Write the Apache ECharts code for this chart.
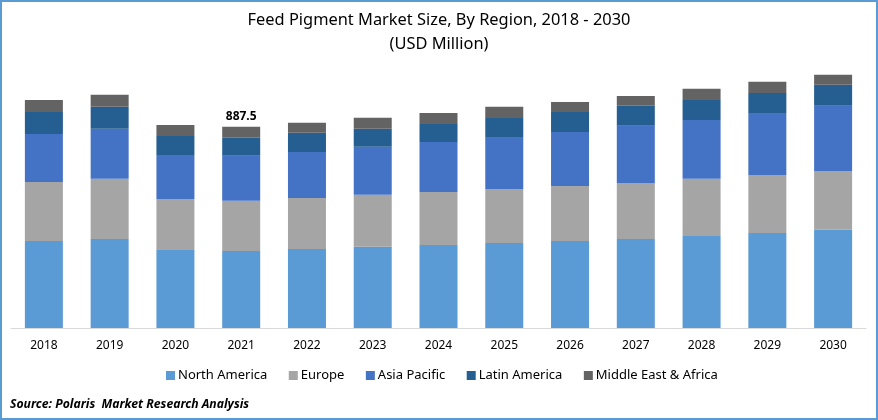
<!DOCTYPE html>
<html>
<head>
<meta charset="utf-8">
<style>
html, body { margin: 0; padding: 0; background: #fff; }
#main { width: 878px; height: 420px; }
</style>
<script src="https://cdn.jsdelivr.net/npm/echarts@6/dist/echarts.min.js"></script>
</head>
<body>
<div id="main"></div>
<script>
var years = ["2018", "2019", "2020", "2021", "2022", "2023", "2024", "2025", "2026", "2027", "2028", "2029", "2030"];
var northAmerica = [384, 393, 344, 340, 349, 358, 366, 375, 384, 393, 406, 419, 433];
var europe = [260, 265, 225, 221, 225, 230, 234, 238, 243, 247, 252, 256, 260];
var asiaPacific = [212, 221, 194, 199, 203, 212, 221, 230, 238, 252, 260, 274, 287];
var latinAmerica = [97, 97, 84, 79, 84, 79, 79, 84, 88, 88, 88, 88, 93];
var middleEast = [53, 53, 49, 49, 44, 49, 49, 49, 44, 44, 49, 49, 44];
var labelYear = "2021";
var labelText = "887.5";

var font = "Noto Sans";
var chart = echarts.init(document.getElementById("main"));

function bar(name, data, color) {
    return {
        name: name,
        type: "bar",
        stack: "total",
        barWidth: 38,
        itemStyle: { color: color },
        data: data
    };
}

var topSeries = bar("Middle East & Africa", middleEast.map(function (v, i) {
    if (years[i] !== labelYear) return v;
    return {
        value: v,
        label: {
            show: true,
            position: "top",
            distance: 4,
            formatter: labelText,
            color: "#000",
            fontFamily: font,
            fontSize: 12,
            fontWeight: "bold"
        }
    };
}), "#636363");

chart.setOption({
    animation: false,
    title: {
        text: "Feed Pigment Market Size, By Region, 2018 - 2030\n(USD Million)",
        left: "center",
        top: 3,
        textStyle: {
            fontFamily: font,
            fontSize: 16.4,
            fontWeight: "normal",
            color: "#000",
            lineHeight: 24
        }
    },
    grid: { left: 11, right: 12, top: 56, bottom: 92 },
    xAxis: {
        type: "category",
        data: years,
        axisTick: { show: false },
        axisLine: { lineStyle: { color: "#d9d9d9", width: 1 } },
        axisLabel: { color: "#000", fontFamily: font, fontSize: 12, margin: 12 }
    },
    yAxis: {
        type: "value",
        min: 0,
        max: 1200,
        show: false,
        splitLine: { show: false }
    },
    legend: {
        bottom: 33,
        left: 161,
        icon: "rect",
        itemWidth: 9,
        itemHeight: 9,
        itemGap: 21.5,
        textStyle: { color: "#000", fontFamily: font, fontSize: 13, padding: [0, 0, 0, -2] }
    },
    graphic: [{
        type: "rect",
        shape: { x: 1, y: 1, width: 876, height: 418 },
        style: { fill: "none", stroke: "#5b9bd5", lineWidth: 2 }
    }, {
        type: "text",
        left: 10,
        top: 399,
        style: {
            text: "Source: Polaris  Market Research Analysis",
            fill: "#000",
            font: "italic bold 12.2px 'Noto Sans'"
        }
    }],
    series: [
        bar("North America", northAmerica, "#5b9bd5"),
        bar("Europe", europe, "#a5a5a5"),
        bar("Asia Pacific", asiaPacific, "#4472c4"),
        bar("Latin America", latinAmerica, "#255e91"),
        topSeries
    ]
});
</script>
</body>
</html>
